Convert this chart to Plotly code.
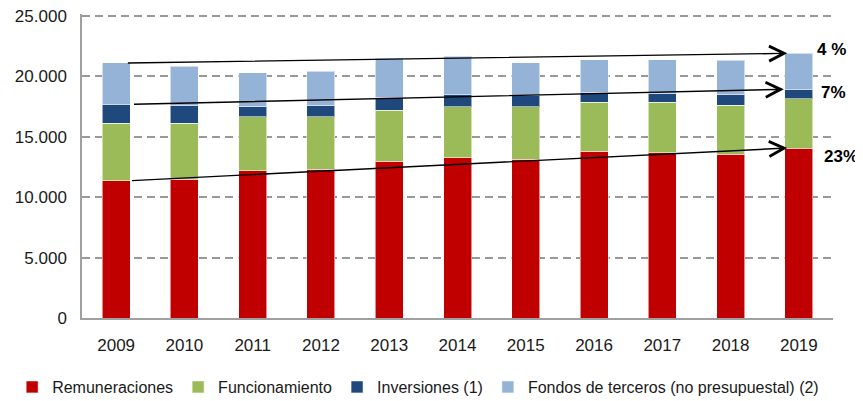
import plotly.graph_objects as go

years = [2009, 2010, 2011, 2012, 2013, 2014, 2015, 2016, 2017, 2018, 2019]
year_labels = [str(y) for y in years]

remuneraciones = [11370, 11480, 12170, 12310, 12970, 13280, 13140, 13820, 13660, 13550, 14070]
funcionamiento = [4750, 4640, 4500, 4330, 4220, 4190, 4330, 4060, 4220, 4050, 4090]
inversiones = [1570, 1480, 800, 940, 1080, 1050, 910, 800, 700, 910, 770]
fondos = [3420, 3240, 2850, 2840, 3230, 3150, 2760, 2680, 2810, 2840, 2980]

series_names = ["Remuneraciones", "Funcionamiento", "Inversiones (1)",
                "Fondos de terceros (no presupuestal) (2)"]
series_colors = ["#C00000", "#9BBB59", "#1F497D", "#95B3D7"]
growth_labels = ["4 %", "7%", "23%"]

FONT = "Liberation Sans, Arial, sans-serif"

fig = go.Figure()
for name, vals, col in zip(series_names, [remuneraciones, funcionamiento, inversiones, fondos], series_colors):
    fig.add_trace(go.Bar(
        x=years, y=vals, name=name, width=0.41,
        marker=dict(color=col, line=dict(color="rgba(255,255,255,0.55)", width=1)),
    ))

# cumulative levels for arrows
lvl_rem = remuneraciones
lvl_inv = [r + f + i for r, f, i in zip(remuneraciones, funcionamiento, inversiones)]
lvl_tot = [a + b for a, b in zip(lvl_inv, fondos)]

arrows = [
    (years[0] + 0.15, lvl_tot[0], years[-1] - 0.17, lvl_tot[-1]),
    (years[0] + 0.24, lvl_inv[0], years[-1] - 0.22, lvl_inv[-1]),
    (years[0] + 0.21, lvl_rem[0], years[-1] - 0.17, lvl_rem[-1]),
]
annotations = []
for (x0, y0, x1, y1) in arrows:
    annotations.append(dict(
        x=x1, y=y1, ax=x0, ay=y0, xref="x", yref="y", axref="x", ayref="y",
        text="", showarrow=True, arrowhead=5, arrowsize=2.1, arrowwidth=1.4,
        arrowcolor="#000000", standoff=0, startstandoff=0,
    ))

label_specs = [
    (growth_labels[0], lvl_tot[-1], 0.9983, 4),
    (growth_labels[1], lvl_inv[-1], 1.0004, -3.5),
    (growth_labels[2], lvl_rem[-1], 1.0107, -8),
]
for txt, yv, xp, ys in label_specs:
    annotations.append(dict(
        x=xp, y=yv, xref="paper", yref="y", text="<b>" + txt + "</b>",
        showarrow=False, xanchor="center", yanchor="middle", yshift=ys,
        font=dict(family=FONT, size=17, color="#000000"),
    ))

# the page body adds an 8px margin, so the figure is 8px smaller each way
fig.update_layout(
    barmode="stack",
    width=855, height=393,
    margin=dict(l=74, r=30, t=6, b=83, autoexpand=False),
    paper_bgcolor="white", plot_bgcolor="white",
    separators=",.",
    font=dict(family=FONT, size=17, color="#1a1a1a"),
    annotations=annotations,
    legend=dict(
        orientation="h", xref="paper", yref="paper",
        x=-0.093, y=-0.227, xanchor="left", yanchor="middle",
        font=dict(family=FONT, size=16, color="#1a1a1a"),
        traceorder="normal", itemclick=False,
    ),
    showlegend=True,
)
fig.update_xaxes(
    range=[2008.5, 2019.5], tickvals=years, ticktext=year_labels,
    showline=True, linecolor="#A0A0A0", linewidth=2,
    showgrid=False, ticks="", ticklabelstandoff=11, zeroline=False,
    tickfont=dict(family=FONT, size=17, color="#1a1a1a"),
)
fig.update_yaxes(
    range=[0, 25165], tickvals=[0, 5000, 10000, 15000, 20000, 25000], tickformat=",.0f",
    showline=True, linecolor="#A0A0A0", linewidth=1.5,
    showgrid=True, gridcolor="#999999", gridwidth=1.5, griddash="8px,5px",
    ticks="", ticklabelstandoff=10, zeroline=False, ticklabeloverflow="allow",
    tickfont=dict(family=FONT, size=17, color="#1a1a1a"),
)

fig.write_html("out.html")
